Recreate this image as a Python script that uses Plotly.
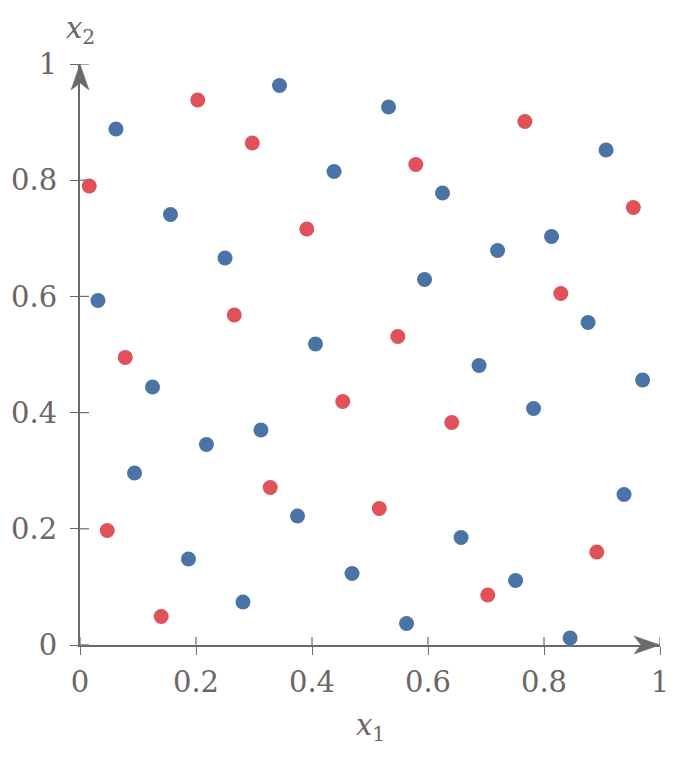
import plotly.graph_objects as go

# ---- data ----
blue_x = [0.344, 0.532, 0.062, 0.907, 0.438, 0.156, 0.625, 0.250, 0.720, 0.813,
          0.031, 0.594, 0.876, 0.406, 0.688, 0.970, 0.125, 0.782, 0.312, 0.218,
          0.094, 0.938, 0.375, 0.657, 0.187, 0.469, 0.751, 0.281, 0.563, 0.845]
blue_y = [0.963, 0.926, 0.888, 0.852, 0.815, 0.741, 0.778, 0.666, 0.679, 0.703,
          0.593, 0.629, 0.555, 0.518, 0.481, 0.456, 0.444, 0.407, 0.370, 0.345,
          0.296, 0.259, 0.222, 0.185, 0.148, 0.123, 0.111, 0.074, 0.037, 0.012]
red_x = [0.203, 0.767, 0.297, 0.579, 0.016, 0.954, 0.391, 0.829, 0.266, 0.548,
         0.078, 0.453, 0.641, 0.328, 0.516, 0.047, 0.891, 0.703, 0.140]
red_y = [0.938, 0.901, 0.864, 0.827, 0.790, 0.753, 0.716, 0.605, 0.568, 0.531,
         0.495, 0.419, 0.383, 0.271, 0.235, 0.197, 0.160, 0.086, 0.049]

tick_vals = [0, 0.2, 0.4, 0.6, 0.8, 1]
tick_text = ["0", "0.2", "0.4", "0.6", "0.8", "1"]

BLUE = "#4a74a6"
RED = "#e0525a"
GREY = "#6e6969"
TEXT = "#6b6565"
FONT = "DejaVu Serif"

fig = go.Figure()
fig.add_trace(go.Scatter(x=blue_x, y=blue_y, mode="markers", cliponaxis=False,
                         marker=dict(size=15, color=BLUE, line=dict(width=0)),
                         showlegend=False, hoverinfo="skip"))
fig.add_trace(go.Scatter(x=red_x, y=red_y, mode="markers", cliponaxis=False,
                         marker=dict(size=15, color=RED, line=dict(width=0)),
                         showlegend=False, hoverinfo="skip"))

shapes = []
# inner halves of the crossing ticks
for t in tick_vals:
    shapes.append(dict(type="line", xref="x", yref="y", x0=t, x1=t,
                       ysizemode="pixel", yanchor=0, y0=0, y1=8,
                       line=dict(color=GREY, width=1.2), layer="below"))
    shapes.append(dict(type="line", xref="x", yref="y", y0=t, y1=t,
                       xsizemode="pixel", xanchor=0, x0=0, x1=9,
                       line=dict(color=GREY, width=1.2), layer="below"))
# arrow heads (paper-referenced so they are not clipped to the plot area)
shapes.append(dict(type="path", xref="paper", yref="paper", xsizemode="pixel", ysizemode="pixel",
                   xanchor=0, yanchor=1, path="M0,0 L9,-26 L0,-19 L-9,-26 Z",
                   fillcolor=GREY, line=dict(color=GREY, width=0.5)))
shapes.append(dict(type="path", xref="paper", yref="paper", xsizemode="pixel", ysizemode="pixel",
                   xanchor=1, yanchor=0, path="M0,0 L-26,9 L-19,0 L-26,-9 Z",
                   fillcolor=GREY, line=dict(color=GREY, width=0.5)))

axis_common = dict(range=[0, 1], showgrid=False, zeroline=False, automargin=False,
                   showline=True, linecolor=GREY, linewidth=2,
                   ticks="outside", ticklen=8, tickwidth=1.2, tickcolor=GREY,
                   tickvals=tick_vals, ticktext=tick_text,
                   tickfont=dict(family=FONT, size=29, color=TEXT))

fig.update_layout(
    width=676, height=749,
    margin=dict(l=72, r=24, t=56, b=112),
    paper_bgcolor="white", plot_bgcolor="white",
    xaxis=dict(**axis_common, ticklabelstandoff=2),
    yaxis=dict(**axis_common, ticklabelstandoff=7),
    shapes=shapes,
    annotations=[
        dict(text="<i>x</i><sub>1</sub>", xref="paper", yref="paper", x=0.5, y=0,
             xanchor="center", yanchor="middle", yshift=-82, showarrow=False,
             font=dict(family=FONT, size=29, color=TEXT)),
        dict(text="<i>x</i><sub>2</sub>", xref="paper", yref="paper", x=0, y=1,
             xanchor="center", yanchor="top", yshift=55, showarrow=False,
             font=dict(family=FONT, size=29, color=TEXT)),
    ],
)

fig.write_html("out.html")
